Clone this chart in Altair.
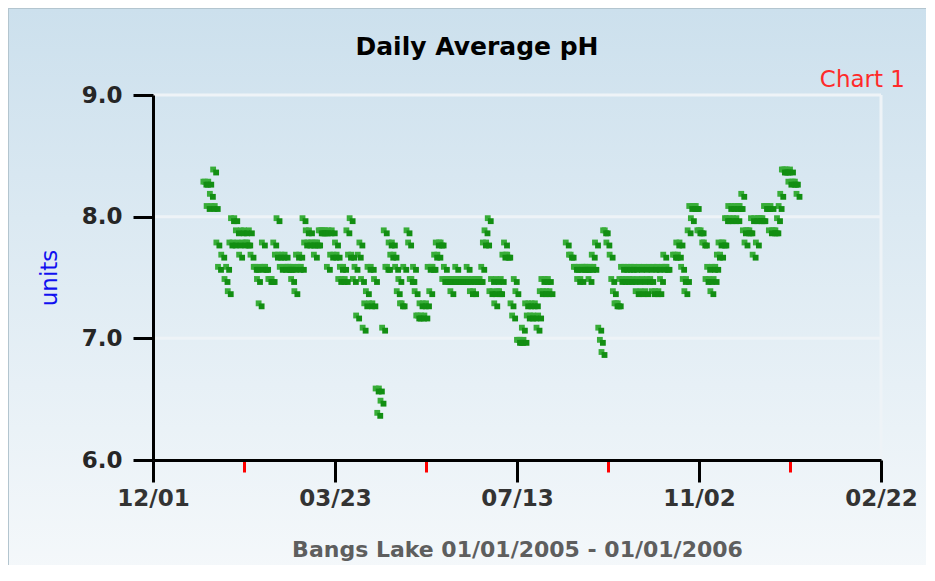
import datetime as dt
import pandas as pd
import altair as alt

# ---------------- text ----------------
TITLE = "Daily Average pH"
CORNER = "Chart 1"
X_TITLE = "Bangs Lake 01/01/2005 - 01/01/2006"
Y_TITLE = "units"

# ---------------- data ----------------
# daily average pH, one entry per day starting 2005-01-01 (None = no reading)
START = (2005, 1, 1)
ph_by_day = [
    8.3, 8.3, 8.1, 8.3, 8.2, 8.1, 8.4, 8.1, 7.8, 7.6,    # 0-9
    None, 7.7, None, 7.5, 7.6, 7.4, 7.8, 8.0, 7.8, 8.0,  # 10-19
    7.9, 7.8, 7.7, 7.9, 7.8, 7.9, 7.8, 7.8, 7.9, 7.7,    # 20-29
    None, 7.6, 7.6, 7.5, 7.3, 7.6, 7.8, 7.6, 7.6, None,  # 30-39
    7.5, 7.5, 7.5, 7.8, 7.7, 8.0, 7.7, 7.6, 7.7, 7.6,    # 40-49
    7.7, 7.6, 7.6, 7.6, 7.5, 7.6, 7.4, 7.7, 7.6, 7.7,    # 50-59
    7.6, 8.0, 7.8, 7.9, 7.8, 7.9, 7.8, 7.8, 7.7, 7.8,    # 60-69
    7.8, 7.9, 7.9, 7.9, 7.9, 7.9, 7.6, 7.9, 7.7, 7.9,    # 70-79
    7.7, 7.8, 7.7, 7.5, 7.6, 7.5, 7.6, 7.5, 7.9, 7.7,    # 80-89
    8.0, 7.7, 7.5, 7.6, 7.2, 7.7, 7.8, 7.5, 7.1, 7.3,    # 90-99
    7.4, 7.6, 7.3, 7.6, 7.3, 7.5, 6.6, 6.4, 6.6, 6.5,    # 100-109
    7.1, 7.9, 7.6, 7.6, 7.8, 7.7, 7.8, 7.7, 7.6, 7.4,    # 110-119
    7.5, 7.3, 7.3, 7.6, None, 7.9, 7.8, 7.5, 7.5, 7.6,   # 120-129
    7.4, 7.2, 7.2, 7.3, 7.2, 7.3, 7.2, 7.3, 7.6, 7.4,    # 130-139
    7.6, 7.6, 7.7, 7.8, 7.7, 7.8, 7.8, 7.5, 7.6, 7.5,    # 140-149
    7.5, 7.5, 7.4, 7.5, 7.5, 7.6, 7.5, 7.5, 7.5, 7.5,    # 150-159
    7.5, 7.5, 7.6, 7.5, 7.4, 7.5, 7.4, 7.5, 7.5, 7.5,    # 160-169
    7.5, 7.6, 7.8, 7.9, 7.8, 8.0, 7.4, 7.5, 7.4, 7.3,    # 170-179
    7.5, 7.4, 7.4, 7.5, 7.7, 7.8, 7.7, 7.7, None, 7.3,   # 180-189
    7.2, 7.5, 7.4, 7.0, 7.0, 7.0, 7.1, 7.0, 7.3, 7.2,    # 190-199
    7.3, 7.2, 7.3, 7.2, 7.3, 7.1, 7.2, 7.4, 7.5, 7.4,    # 200-209
    7.5, 7.4, 7.5, 7.4, None, None, None, None, None, None,  # 210-219
    None, None, None, 7.8, None, 7.7, 7.7, None, 7.6, 7.6,   # 220-229
    7.5, 7.6, 7.5, 7.6, 7.6, 7.6, 7.6, 7.5, 7.6, 7.7,    # 230-239
    7.6, 7.8, None, 7.1, 7.0, 6.9, 7.9, 7.9, 7.8, None,  # 240-249
    7.7, 7.5, 7.4, 7.3, 7.3, 7.3, 7.5, 7.6, 7.5, 7.6,    # 250-259
    7.5, 7.6, 7.5, 7.6, 7.5, 7.6, 7.4, 7.5, 7.6, 7.4,    # 260-269
    7.5, 7.6, 7.4, 7.5, 7.6, 7.5, 7.4, 7.6, 7.4, 7.6,    # 270-279
    7.4, 7.5, 7.6, 7.7, 7.6, 7.6, None, None, None, 7.7, # 280-289
    7.7, 7.8, 7.7, 7.8, 7.6, 7.5, 7.4, 7.5, 7.9, 8.1,    # 290-299
    8.0, 8.1, 8.1, 8.1, 7.9, 7.9, 7.9, 7.8, 7.8, 7.5,    # 300-309
    7.6, 7.5, 7.4, 7.6, 7.5, 7.6, 7.7, 7.8, 7.7, 7.8,    # 310-319
    7.8, 8.0, 8.0, 8.1, 8.0, 8.1, 8.0, 8.1, 8.0, 8.1,    # 320-329
    8.1, 8.2, 7.9, 7.8, 7.9, 7.9, 7.9, 8.0, 7.7, 8.0,    # 330-339
    7.8, 8.0, 8.0, 8.0, 8.0, 8.1, 8.1, 8.1, 7.9, 8.1,    # 340-349
    7.9, 7.9, 7.9, 8.0, 8.1, 8.2, 8.4, 8.4, 8.4, 8.4,    # 350-359
    8.3, 8.4, 8.3, 8.3, 8.3, 8.2,                        # 360-365
]

# axis ticks
major_ticks = [(2004, 12, 1), (2005, 3, 23), (2005, 7, 13), (2005, 11, 2), (2006, 2, 22)]
minor_ticks = [(2005, 1, 26), (2005, 5, 18), (2005, 9, 7), (2005, 12, 28)]
x_domain = [(2004, 12, 1), (2006, 2, 22)]
y_ticks = [6.0, 7.0, 8.0, 9.0]
y_grid = [7.0, 8.0, 9.0]
y_domain = [6.0, 9.0]


def dstr(t):
    return f"{t[0]:04d}/{t[1]:02d}/{t[2]:02d}"


def dtime(t):
    return alt.DateTime(year=t[0], month=t[1], date=t[2])


start = dt.date(*START)
rows = [
    {"date": (start + dt.timedelta(days=i)).strftime("%Y/%m/%d"), "ph": v}
    for i, v in enumerate(ph_by_day)
    if v is not None
]
df = pd.DataFrame(rows)

# ---------------- style ----------------
FONT = "DejaVu Sans"
W, H = 728, 365
PAD = {"left": 145, "top": 87, "right": 45, "bottom": 105}
LIGHT_GREEN = "#38ad38"
DARK_GREEN = "#128e12"
GRID = "#eef3f7"
MARK_SIZE = 34

xscale = alt.Scale(domain=[dtime(t) for t in x_domain], nice=False)
yscale = alt.Scale(domain=y_domain, nice=False, zero=False)

x_axis_major = alt.Axis(
    values=[dtime(t) for t in major_ticks],
    orient="bottom",
    labelExpr="timeFormat(datum.value, '%m/%d')",
    tickColor="#000000",
    tickSize=22,
    tickWidth=3,
    domainColor="#000000",
    domainWidth=3,
    grid=False,
    labelFont=FONT,
    labelFontSize=23,
    labelFontWeight="bold",
    labelColor="#333333",
    labelPadding=5,
    labelOverlap=False,
    labelFlush=False,
    title=X_TITLE,
    titleFont=FONT,
    titleFontSize=22,
    titleFontWeight="bold",
    titleColor="#5e5e5e",
    titleX=364,
    titleY=96,
    titleAlign="center",
    titleBaseline="alphabetic",
    zindex=2,
)

x_axis_minor = alt.Axis(
    values=[dtime(t) for t in minor_ticks],
    orient="bottom",
    labels=False,
    domain=False,
    grid=False,
    tickColor="#ff0000",
    tickSize=12,
    tickWidth=3,
    title=None,
    zindex=1,
)

y_axis = alt.Axis(
    values=y_ticks,
    orient="left",
    format=".1f",
    tickSize=20,
    tickWidth=3,
    tickColor="#000000",
    domainColor="#000000",
    domainWidth=3,
    grid=False,
    labelFont=FONT,
    labelFontSize=23,
    labelFontWeight="bold",
    labelColor="#262626",
    labelPadding=11,
    title=Y_TITLE,
    titleFont=FONT,
    titleFontSize=23,
    titleFontWeight="normal",
    titleColor="#1010f0",
    titleAngle=-90,
    titleX=-97,
    titleY=H / 2,
    titleAlign="center",
    titleBaseline="alphabetic",
    zindex=2,
)

# background panel (gradient)
bg = alt.Chart(pd.DataFrame({"k": [0]})).mark_rect(
    color=alt.LinearGradient(
        gradient="linear",
        stops=[
            alt.GradientStop(offset=0, color="#cce0ed"),
            alt.GradientStop(offset=1, color="#f6f9fb"),
        ],
        x1=0, x2=0, y1=0, y2=1,
    ),
    stroke="#b3c5cf",
    strokeWidth=2,
).encode(
    x=alt.value(-PAD["left"]),
    x2=alt.value(W + PAD["right"] + 30),
    y=alt.value(-PAD["top"]),
    y2=alt.value(H + PAD["bottom"] + 30),
)

grid_rules = alt.Chart(pd.DataFrame({"v": y_grid})).mark_rule(
    color=GRID, strokeWidth=3
).encode(y=alt.Y("v:Q", scale=yscale, axis=None))

edge_rule = alt.Chart(pd.DataFrame({"d": [dstr(x_domain[1])]})).mark_rule(
    color=GRID, strokeWidth=3
).encode(x=alt.X("d:T", scale=xscale, axis=None))

light = alt.Chart(df).mark_square(
    size=MARK_SIZE, color=LIGHT_GREEN, opacity=1, yOffset=1.5
).encode(
    x=alt.X("date:T", scale=xscale, axis=x_axis_major),
    y=alt.Y("ph:Q", scale=yscale, axis=y_axis),
)

dark = alt.Chart(df).mark_square(
    size=MARK_SIZE, color=DARK_GREEN, opacity=1, xOffset=3, yOffset=4.5
).encode(
    x=alt.X("date:T", scale=xscale, axis=x_axis_minor),
    y=alt.Y("ph:Q", scale=yscale, axis=None),
)

texts = pd.DataFrame({"t": [TITLE]})
title_mark = alt.Chart(texts).mark_text(
    align="center", baseline="alphabetic", font=FONT, fontSize=25,
    fontWeight="bold", color="#000000"
).encode(x=alt.value(324), y=alt.value(-40), text="t:N")

corner = alt.Chart(pd.DataFrame({"t": [CORNER]})).mark_text(
    align="right", baseline="alphabetic", font=FONT, fontSize=23, color="#ff2a2a"
).encode(x=alt.value(752), y=alt.value(-8), text="t:N")

chart = alt.layer(
    bg, grid_rules, edge_rule, light, dark, title_mark, corner
).resolve_scale(
    x="shared", y="shared"
).resolve_axis(
    x="independent", y="independent"
).properties(
    width=W,
    height=H,
    autosize="none",
    padding=PAD,
).configure_view(stroke=None).configure(font=FONT, background="#ffffff")

chart.save("out.html", embed_options={"renderer": "svg", "actions": False})
